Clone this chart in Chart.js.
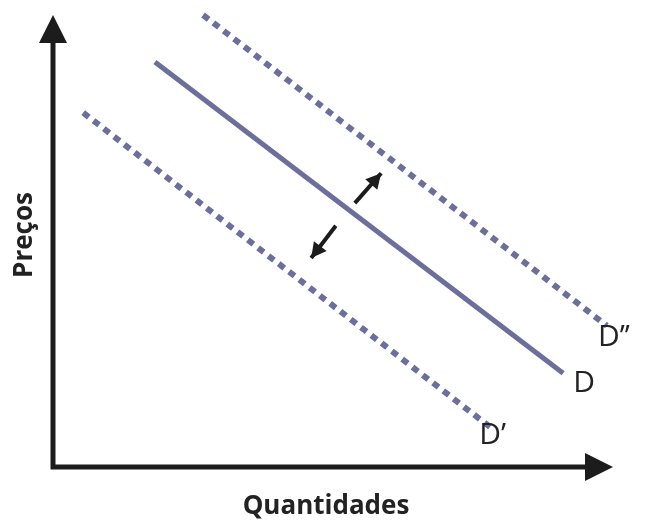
<!DOCTYPE html>
<html>
<head>
<meta charset="utf-8">
<script src="https://cdn.jsdelivr.net/npm/chart.js@4/dist/chart.umd.min.js"></script>
<style>
  html, body { margin: 0; background: #fff; }
  #wrap { width: 661px; height: 525px; }
</style>
</head>
<body>
<div id="wrap"><canvas id="graf"></canvas></div>
<script>
// Deslocamento da demanda: D, D' (queda) e D'' (aumento)
const AZUL_D = '#6c6e9c', PRETO = '#1c1c1c';

const Q_MAX = 10, P_MAX = 8; // pontas das setas dos eixos

// curvas (quantidade, preço)
const D_Q   = [1.82, 9.11];
const D_P   = [7.17, 1.66];
const D2_Q  = [2.68, 9.89];   // D''
const D2_P  = [8.00, 2.50];
const D1_Q  = [0.54, 7.88];   // D'
const D1_P  = [6.27, 0.65];

// setinhas de deslocamento
const SOBE_Q = [5.39, 5.86];
const SOBE_P = [4.67, 5.20];
const DESCE_Q = [5.05, 4.61];
const DESCE_P = [4.27, 3.70];

// rótulos das curvas
const ROTULOS   = ['D\u2019\u2019', 'D', 'D\u2019'];
const ROTULOS_Q = [9.73, 9.29, 7.61];
const ROTULOS_P = [2.30, 1.47, 0.55];

const TITULO_X = 'Quantidades';
const TITULO_Y = 'Preços';

const pontos = (qs, ps) => qs.map((q, i) => ({ x: q, y: ps[i] }));

function ponta(ctx, x0, y0, x1, y1, comp, meia) {
  const a = Math.atan2(y1 - y0, x1 - x0);
  ctx.beginPath();
  ctx.moveTo(x1, y1);
  ctx.lineTo(x1 - comp * Math.cos(a) + meia * Math.sin(a), y1 - comp * Math.sin(a) - meia * Math.cos(a));
  ctx.lineTo(x1 - comp * Math.cos(a) - meia * Math.sin(a), y1 - comp * Math.sin(a) + meia * Math.cos(a));
  ctx.closePath();
  ctx.fill();
}

const desenhoExtra = {
  id: 'desenhoExtra',
  beforeDatasetsDraw(chart) {
    const { ctx, scales: { x, y } } = chart;
    const x0 = x.getPixelForValue(0), y0 = y.getPixelForValue(0);
    const xf = x.getPixelForValue(Q_MAX), yf = y.getPixelForValue(P_MAX);
    ctx.save();
    ctx.strokeStyle = PRETO; ctx.fillStyle = PRETO; ctx.lineWidth = 5;
    ctx.beginPath();
    ctx.moveTo(x0, yf + 20); ctx.lineTo(x0, y0 + 2.5);
    ctx.moveTo(x0 - 2.5, y0); ctx.lineTo(xf - 20, y0);
    ctx.stroke();
    ponta(ctx, x0, y0, x0, yf, 28, 14);
    ponta(ctx, x0, y0, xf, y0, 28, 14);
    ctx.restore();
  },
  afterDatasetsDraw(chart) {
    const { ctx, scales: { x, y } } = chart;
    ctx.save();
    ctx.fillStyle = PRETO;
    [[SOBE_Q, SOBE_P], [DESCE_Q, DESCE_P]].forEach(([qs, ps]) => {
      ponta(ctx, x.getPixelForValue(qs[0]), y.getPixelForValue(ps[0]),
            x.getPixelForValue(qs[1]), y.getPixelForValue(ps[1]), 15, 8);
    });
    ctx.fillStyle = '#222';
    ctx.font = '30px "Open Sans"';
    ctx.textBaseline = 'middle'; ctx.textAlign = 'left';
    ROTULOS.forEach((r, i) => ctx.fillText(r, x.getPixelForValue(ROTULOS_Q[i]), y.getPixelForValue(ROTULOS_P[i])));
    ctx.font = 'bold 26px "Open Sans"';
    ctx.textAlign = 'center';
    ctx.textBaseline = 'alphabetic';
    ctx.fillText(TITULO_X, 326, 514);
    ctx.translate(32, 235);
    ctx.rotate(-Math.PI / 2);
    ctx.fillText(TITULO_Y, 0, 0);
    ctx.restore();
  },
};

const linha = (dados, cor, larg, tracejado) => ({
  data: dados, showLine: true, borderColor: cor, borderWidth: larg,
  borderDash: tracejado || [], borderCapStyle: 'butt',
  pointRadius: 0, pointHoverRadius: 0, clip: false, fill: false,
});

new Chart(document.getElementById('graf'), {
  type: 'scatter',
  data: {
    datasets: [
      linha(pontos(D2_Q, D2_P), AZUL_D, 6, [7, 6]),
      linha(pontos(D1_Q, D1_P), AZUL_D, 6, [7, 6]),
      linha(pontos(D_Q, D_P), AZUL_D, 5),
      linha(pontos(SOBE_Q, SOBE_P), PRETO, 4),
      linha(pontos(DESCE_Q, DESCE_P), PRETO, 4),
    ],
  },
  options: {
    responsive: true, maintainAspectRatio: false, animation: false,
    layout: { padding: { left: 53, right: 48, top: 15, bottom: 58 } },
    scales: {
      x: { type: 'linear', min: 0, max: Q_MAX, display: false },
      y: { type: 'linear', min: 0, max: P_MAX, display: false },
    },
    plugins: { legend: { display: false }, tooltip: { enabled: false } },
  },
  plugins: [desenhoExtra],
});
</script>
</body>
</html>
